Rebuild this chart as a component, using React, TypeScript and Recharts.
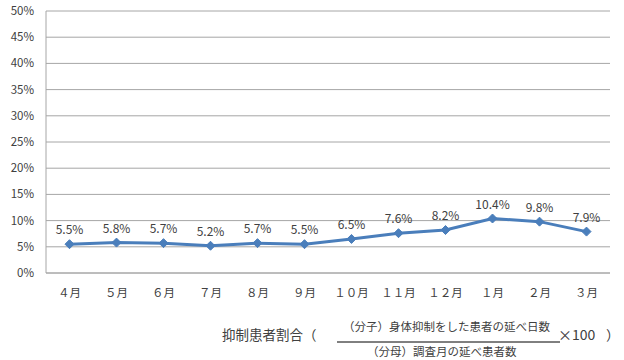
import { CartesianGrid, LabelList, Line, LineChart, XAxis, YAxis } from 'recharts'

const months = ['４月', '５月', '６月', '７月', '８月', '９月', '１０月', '１１月', '１２月', '１月', '２月', '３月']
const rates = [5.5, 5.8, 5.7, 5.2, 5.7, 5.5, 6.5, 7.6, 8.2, 10.4, 9.8, 7.9]
const yTicks = [0, 5, 10, 15, 20, 25, 30, 35, 40, 45, 50]

const data = months.map((m, i) => ({ month: m, rate: rates[i] }))

const FONT = '"Noto Sans CJK JP", "Noto Sans", sans-serif'
const LINE = '#4a7ebb'

function Diamond(props: any) {
  const { cx, cy } = props
  if (cx == null || cy == null) return null
  const r = 4.5
  return (
    <polygon
      points={`${cx},${cy - r} ${cx + r},${cy} ${cx},${cy + r} ${cx - r},${cy}`}
      fill={LINE}
      stroke={LINE}
    />
  )
}

export default function App() {
  return (
    <div style={{ position: 'fixed', left: 0, top: 0, width: 624, height: 360, background: '#fff', fontFamily: FONT }}>
      <LineChart
        width={624}
        height={360}
        data={data}
        margin={{ top: 11, right: 14, left: 0, bottom: 57 }}
      >
        <CartesianGrid stroke="#a6a6a6" vertical={false} />
        <XAxis
          dataKey="month"
          tick={{ fill: '#404040', fontSize: 11.5, fontFamily: FONT }}
          axisLine={{ stroke: '#a6a6a6' }}
          tickLine={false}
          tickMargin={10}
          interval={0}
          padding={{ left: 23.5, right: 23.5 }}
          height={30}
        />
        <YAxis
          domain={[0, 50]}
          ticks={yTicks}
          tickFormatter={(v: number) => `${v}%`}
          tick={{ fill: '#404040', fontSize: 11.5, fontFamily: FONT }}
          axisLine={{ stroke: '#a6a6a6' }}
          tickLine={false}
          tickMargin={6}
          width={46}
        />
        <Line
          type="linear"
          dataKey="rate"
          stroke={LINE}
          strokeWidth={3}
          dot={<Diamond />}
          activeDot={false}
          isAnimationActive={false}
        >
          <LabelList
            dataKey="rate"
            position="top"
            offset={10}
            formatter={(v: any) => `${Number(v).toFixed(1)}%`}
            style={{ fill: '#404040', fontSize: 12, fontFamily: FONT }}
          />
        </Line>
      </LineChart>
      <svg
        width={624}
        height={360}
        style={{ position: 'absolute', left: 0, top: 0, pointerEvents: 'none' }}
        fontFamily={FONT}
        fill="#404040"
      >
        <text x={222} y={340} fontSize={13.5}>抑制患者割合（</text>
        <text x={343} y={331} fontSize={11.5}>（分子）身体抑制をした患者の延べ日数</text>
        <line x1={337} x2={560} y1={342} y2={342} stroke="#000" strokeWidth={1} />
        <text x={367} y={356} fontSize={11.5}>（分母）調査月の延べ患者数</text>
        <text x={558} y={340} fontSize={14}>×100</text>
        <text x={606} y={340} fontSize={13.5}>）</text>
      </svg>
    </div>
  )
}
